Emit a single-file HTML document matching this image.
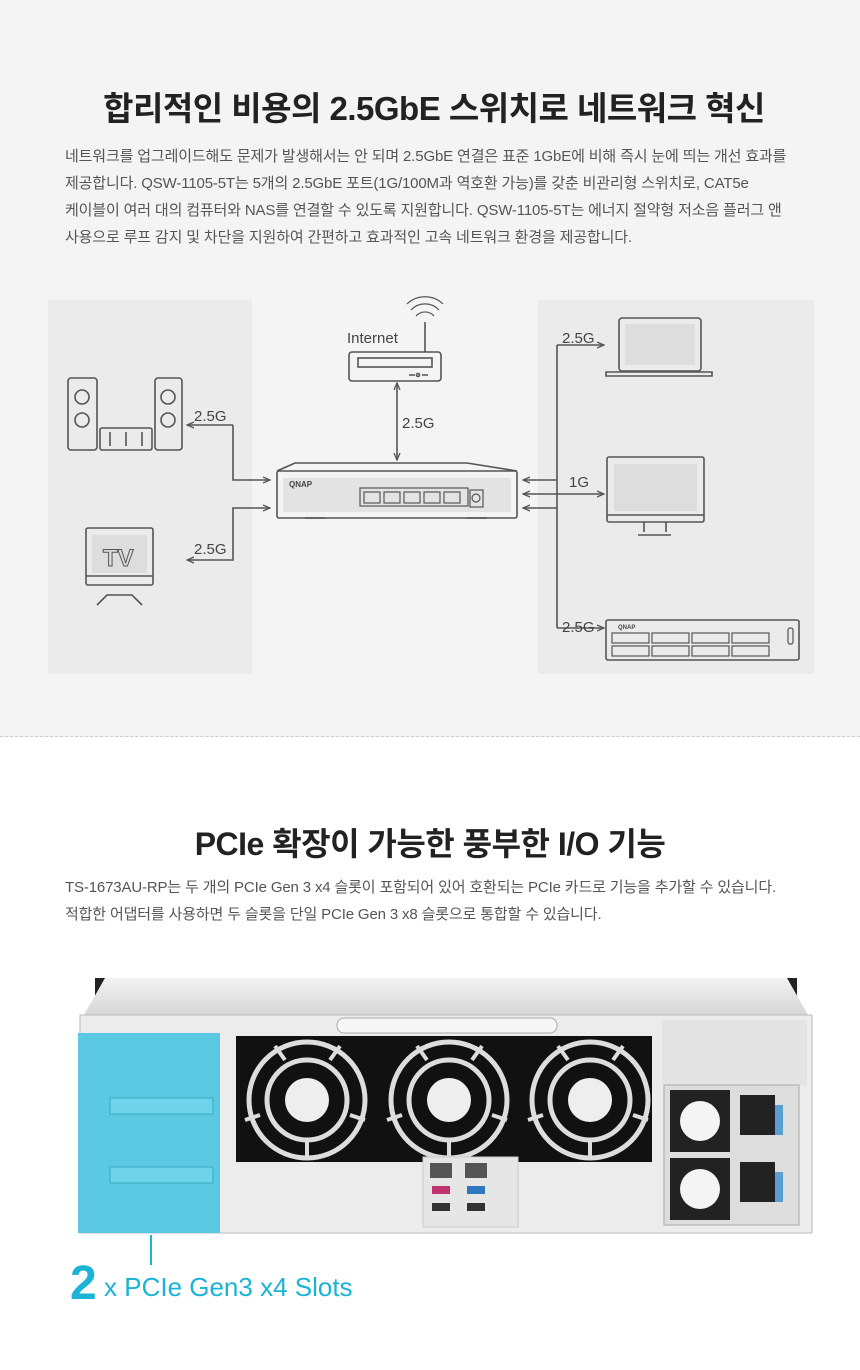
<!DOCTYPE html>
<html><head><meta charset="utf-8"><style>
*{margin:0;padding:0;box-sizing:border-box}
body{width:860px;height:1370px;background:#fff;font-family:"Liberation Sans","Noto Sans CJK KR",sans-serif;position:relative;overflow:hidden}
.top{position:absolute;left:0;top:0;width:860px;height:737px;background:#f4f4f4;border-bottom:1px dashed #ccc}
h1{position:absolute;left:0;width:860px;text-align:center;font-size:33px;font-weight:bold;color:#222;letter-spacing:-0.5px}
.p{position:absolute;left:65px;font-size:15px;color:#555;line-height:27px;white-space:nowrap;letter-spacing:-0.15px}
</style></head><body>
<div class="top"></div>
<h1 style="top:82px;left:4px">합리적인 비용의 2.5GbE 스위치로 네트워크 혁신</h1>
<div class="p" style="top:143px">네트워크를 업그레이드해도 문제가 발생해서는 안 되며 2.5GbE 연결은 표준 1GbE에 비해 즉시 눈에 띄는 개선 효과를<br>제공합니다. QSW-1105-5T는 5개의 2.5GbE 포트(1G/100M과 역호환 가능)를 갖춘 비관리형 스위치로, CAT5e<br>케이블이 여러 대의 컴퓨터와 NAS를 연결할 수 있도록 지원합니다. QSW-1105-5T는 에너지 절약형 저소음 플러그 앤<br>사용으로 루프 감지 및 차단을 지원하여 간편하고 효과적인 고속 네트워크 환경을 제공합니다.</div>

<svg style="position:absolute;left:0;top:0" width="860" height="737" viewBox="0 0 860 737">
<defs><marker id="a" markerWidth="8" markerHeight="8" refX="7" refY="4" orient="auto-start-reverse" markerUnits="userSpaceOnUse"><path d="M0,1 L7,4 L0,7" fill="none" stroke="#555" stroke-width="1.3"/></marker></defs>
<rect x="48" y="300" width="204" height="374" fill="#ebebeb"/>
<rect x="538" y="300" width="276" height="374" fill="#ebebeb"/>
<g fill="#ddd">
<rect x="92" y="535" width="55" height="38"/><rect x="625" y="324" width="70" height="41"/><rect x="614" y="464" width="83" height="47"/><rect x="283" y="478" width="228" height="34" fill="#e3e3e3"/>
</g>
<g fill="none" stroke="#555" stroke-width="1.6">
<rect x="68" y="378" width="29" height="72" rx="3"/><circle cx="82" cy="397" r="7"/><circle cx="82" cy="420" r="7"/>
<rect x="155" y="378" width="27" height="72" rx="3"/><circle cx="168" cy="397" r="7"/><circle cx="168" cy="420" r="7"/>
<rect x="100" y="428" width="52" height="22" rx="2"/>
<path d="M110,432v14M126,432v14M142,432v14"/>
<rect x="86" y="528" width="67" height="57" rx="2"/><path d="M86,576h67M97,605l10-10h25l10,10"/>
<rect x="349" y="352" width="92" height="29" rx="3"/><rect x="358" y="358" width="74" height="9"/>
<path d="M425,352v-30"/><path d="M416,316a12,12 0 0 1 18,0M411,310a19,19 0 0 1 28,0M407,304a26,26 0 0 1 36,0" stroke-width="1.2"/>
<path d="M409,375h6M422,375h6"/><circle cx="418" cy="375" r="1.5"/>
<path d="M277,471 L295,463 L467,463 L517,471" /><rect x="277" y="471" width="240" height="47" rx="2"/>
<path d="M305,518h20M467,518h20"/>
<rect x="619" y="318" width="82" height="53" rx="3"/><path d="M606,372h106v4h-106z"/>
<rect x="607" y="457" width="97" height="65" rx="2"/><path d="M607,515h97M644,522v10M666,522v10M638,535h33"/>
<rect x="606" y="620" width="193" height="40" rx="2"/>
<path d="M233,425H187M233,425V480H270" marker-end="url(#a)"/>
<path d="M187,425h1" marker-start="url(#a)"/>
<path d="M270,508H233V560H187" marker-end="url(#a)" marker-start="url(#a)"/>
<path d="M397,383V460" marker-end="url(#a)" marker-start="url(#a)"/>
<path d="M557,480H523" marker-end="url(#a)"/>
<path d="M557,508H523" marker-end="url(#a)"/>
<path d="M557,345V628"/>
<path d="M557,345H604" marker-end="url(#a)"/>
<path d="M557,628H604" marker-end="url(#a)"/>
<path d="M523,494H604" marker-end="url(#a)" marker-start="url(#a)"/>
</g>
<g fill="none" stroke="#555" stroke-width="1.2">
<rect x="360" y="488" width="108" height="18"/><rect x="470" y="490" width="13" height="17"/><circle cx="476" cy="498" r="4"/>
<rect x="364" y="492" width="16" height="11"/><rect x="384" y="492" width="16" height="11"/><rect x="404" y="492" width="16" height="11"/><rect x="424" y="492" width="16" height="11"/><rect x="444" y="492" width="16" height="11"/>
<rect x="612" y="633" width="37" height="10"/><rect x="652" y="633" width="37" height="10"/><rect x="692" y="633" width="37" height="10"/><rect x="732" y="633" width="37" height="10"/>
<rect x="612" y="646" width="37" height="10"/><rect x="652" y="646" width="37" height="10"/><rect x="692" y="646" width="37" height="10"/><rect x="732" y="646" width="37" height="10"/>
<rect x="788" y="628" width="5" height="16" rx="2"/>
</g>
<g font-family="Liberation Sans,sans-serif" fill="#444" font-size="15">
<text x="347" y="343">Internet</text>
<text x="194" y="421">2.5G</text><text x="402" y="428">2.5G</text><text x="194" y="554">2.5G</text>
<text x="562" y="343">2.5G</text><text x="569" y="487">1G</text><text x="562" y="632">2.5G</text>
<text x="103" y="566" font-size="24" font-weight="bold" fill="#ddd" stroke="#555" stroke-width="1">TV</text>
<text x="289" y="487" font-size="8" font-weight="bold">QNAP</text>
<text x="618" y="629" font-size="6" font-weight="bold">QNAP</text>
</g>
</svg>

<h1 style="top:819px;font-size:32px">PCIe 확장이 가능한 풍부한 I/O 기능</h1>
<div class="p" style="top:874px">TS-1673AU-RP는 두 개의 PCIe Gen 3 x4 슬롯이 포함되어 있어 호환되는 PCIe 카드로 기능을 추가할 수 있습니다.<br>적합한 어댑터를 사용하면 두 슬롯을 단일 PCIe Gen 3 x8 슬롯으로 통합할 수 있습니다.</div>

<svg style="position:absolute;left:0;top:960px" width="860" height="340" viewBox="0 960 860 340">
<defs><linearGradient id="g" x1="0" y1="0" x2="0" y2="1"><stop offset="0" stop-color="#f2f2f2"/><stop offset="1" stop-color="#d6d6d6"/></linearGradient></defs>
<rect x="95" y="978" width="15" height="18" fill="#222"/><rect x="782" y="978" width="15" height="18" fill="#222"/>
<path d="M105,978H787L808,1015H84Z" fill="url(#g)"/>
<rect x="80" y="1015" width="732" height="218" fill="#ececec" stroke="#bbb"/>
<rect x="662" y="1020" width="145" height="65" fill="#e4e4e4"/>
<rect x="78" y="1033" width="142" height="200" fill="#5cc9e3"/>
<rect x="110" y="1098" width="103" height="16" fill="#6fd3ea" stroke="#3aa8c2"/>
<rect x="110" y="1167" width="103" height="16" fill="#6fd3ea" stroke="#3aa8c2"/>
<rect x="337" y="1018" width="220" height="15" rx="7" fill="#f7f7f7" stroke="#aaa"/>
<rect x="236" y="1036" width="416" height="126" fill="#111"/>
<g fill="none" stroke="#ddd" stroke-width="5">
<circle cx="307" cy="1100" r="58"/><circle cx="449" cy="1100" r="58"/><circle cx="590" cy="1100" r="58"/>
<circle cx="307" cy="1100" r="40"/><circle cx="449" cy="1100" r="40"/><circle cx="590" cy="1100" r="40"/>
</g>
<g fill="#eee"><circle cx="307" cy="1100" r="22"/><circle cx="449" cy="1100" r="22"/><circle cx="590" cy="1100" r="22"/></g>
<g stroke="#ddd" stroke-width="4" fill="none">
<path d="M285,1060l-10,-14M330,1060l10,-14M350,1115l15,5M260,1115l-15,5M307,1140v18"/>
<path d="M427,1060l-10,-14M472,1060l10,-14M492,1115l15,5M402,1115l-15,5M449,1140v18"/>
<path d="M568,1060l-10,-14M613,1060l10,-14M633,1115l15,5M543,1115l-15,5M590,1140v18"/>
</g>
<rect x="423" y="1157" width="95" height="70" fill="#e6e6e6" stroke="#ccc"/>
<rect x="430" y="1163" width="22" height="15" fill="#555"/><rect x="465" y="1163" width="22" height="15" fill="#555"/>
<rect x="432" y="1186" width="18" height="8" fill="#c0346e"/><rect x="467" y="1186" width="18" height="8" fill="#2e78c0"/>
<rect x="432" y="1203" width="18" height="8" fill="#333"/><rect x="467" y="1203" width="18" height="8" fill="#333"/>
<rect x="664" y="1085" width="135" height="140" fill="#ddd" stroke="#aaa"/>
<rect x="670" y="1090" width="60" height="62" fill="#222"/><rect x="670" y="1158" width="60" height="62" fill="#222"/>
<circle cx="700" cy="1121" r="20" fill="#f4f4f4"/><circle cx="700" cy="1189" r="20" fill="#f4f4f4"/>
<rect x="740" y="1095" width="35" height="40" fill="#222"/><rect x="740" y="1162" width="35" height="40" fill="#222"/>
<rect x="775" y="1105" width="8" height="30" fill="#5a9fcf"/><rect x="775" y="1172" width="8" height="30" fill="#5a9fcf"/>
<line x1="151" y1="1235" x2="151" y2="1265" stroke="#1bb3d6" stroke-width="2"/>
<text x="70" y="1299" font-family="Liberation Sans,sans-serif" font-size="48" font-weight="bold" fill="#1bb3d6">2</text>
<text x="104" y="1296" font-family="Liberation Sans,sans-serif" font-size="26" fill="#1bb3d6">x PCIe Gen3 x4 Slots</text>
</svg>
</body></html>
